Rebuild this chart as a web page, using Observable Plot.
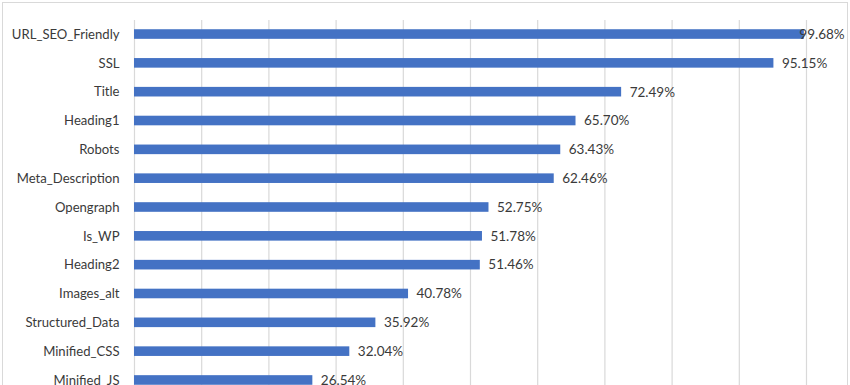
<!DOCTYPE html>
<html>
<head>
<meta charset="utf-8">
<script src="https://cdn.jsdelivr.net/npm/d3@7"></script>
<script src="https://cdn.jsdelivr.net/npm/@observablehq/plot@0.6"></script>
<style>
  body { margin: 0; background: #fff; }
  #wrap { position: relative; width: 850px; height: 385px; overflow: hidden; background: #fff; }
  #border { position: absolute; left: 2px; top: 2px; right: 2px; height: 420px; border: 1px solid #d9d9d9; pointer-events: none; }
  #chart svg { display: block; }
</style>
</head>
<body>
<div id="wrap"><div id="chart"></div><div id="border"></div></div>
<script>
const categories = ["URL_SEO_Friendly", "SSL", "Title", "Heading1", "Robots", "Meta_Description", "Opengraph", "Is_WP", "Heading2", "Images_alt", "Structured_Data", "Minified_CSS", "Minified_JS"];
const values = [99.68, 95.15, 72.49, 65.70, 63.43, 62.46, 52.75, 51.78, 51.46, 40.78, 35.92, 32.04, 26.54];
const xTicks = [0, 10, 20, 30, 40, 50, 60, 70, 80, 90, 100];

const data = categories.map((c, i) => ({name: c, value: values[i]}));
const fmt = v => v.toFixed(2) + "%";
const maxV = d3.max(values);

const chart = Plot.plot({
  width: 850,
  height: 385,
  marginLeft: 134,
  marginRight: 44,
  marginTop: 20,
  marginBottom: 0,
  style: {fontFamily: "Lato, 'Open Sans', sans-serif", fontSize: "13px", color: "#595959", background: "#fff"},
  x: {domain: [0, 100], axis: null},
  y: {domain: categories, range: [10, 404], padding: 0.667, round: false, axis: null},
  marks: [
    Plot.gridX(xTicks, {stroke: "#d9d9d9", strokeOpacity: 1, strokeWidth: 1.2}),
    Plot.barX(data, {x: "value", y: "name", fill: "#4472C4"}),
    Plot.axisY({tickSize: 0, tickPadding: 15, fontSize: 13.1, fill: "#3a3a3a", label: null}),
    Plot.text(data.filter(d => d.value < maxV), {x: "value", y: "name", text: d => fmt(d.value), textAnchor: "start", dx: 8, fill: "#3a3a3a", fontSize: 13.5}),
    Plot.text(data.filter(d => d.value === maxV), {x: "value", y: "name", text: d => fmt(d.value), textAnchor: "start", dx: -5, fill: "#3a3a3a", fontSize: 13.5})
  ]
});
document.getElementById("chart").appendChild(chart);
</script>
</body>
</html>
